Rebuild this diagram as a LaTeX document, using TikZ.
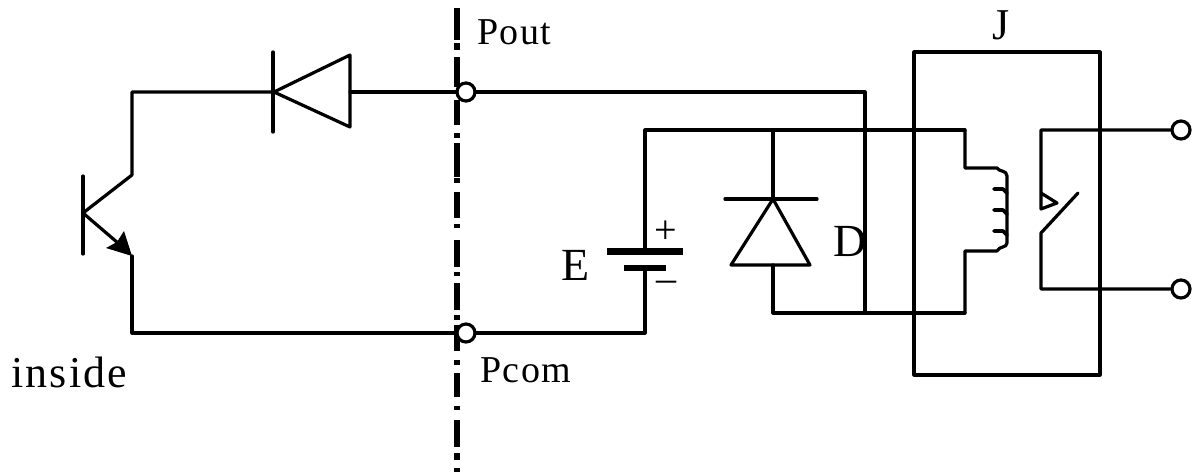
\documentclass[tikz,border=0pt]{standalone}
\usepackage{fontspec}
\setmainfont{Liberation Serif}
\newfontfamily\spaced[LetterSpace=4]{Liberation Serif}
\newfontfamily\wide[LetterSpace=5]{Liberation Serif}
\usetikzlibrary{calc}
\tikzset{
  wire/.style={line width=3.2pt,line cap=round,line join=round,black},
  plate/.style={line width=7pt,black},
  bound/.style={line width=6.2pt,black},
  term/.style={circle,draw=black,line width=3.2pt,fill=white,minimum size=18pt,inner sep=0pt},
  lbl/.style={inner sep=0pt,text=black},
}
\begin{document}
\begin{tikzpicture}[x=1pt,y=-1pt]
\useasboundingbox (0,0) rectangle (1192,472);
\fill[white] (0,0) rectangle (1192,472);
% boundary line
\foreach \a/\b in {8/40,43/50,57/87,100/125,133/138,143/177,178/183,192/218,224/228,240/267,272/276,283/310,315/320,325/351,360/365,373/397,406/410,420/447,453/460,468/472}
  \draw[bound] (457,\a) -- (457,\b);
% coordinates
\coordinate (cTop) at (132,92);
\coordinate (cBot) at (132,256);
\coordinate (cCol) at (132,175);
\coordinate (base) at (83,213);
\coordinate (eBot) at (132,333);
\coordinate (dA) at (350,92);
\coordinate (dK) at (274,92);
\coordinate (outEnd) at (865,92);
\coordinate (comJ) at (865,313);
\coordinate (batTop) at (645,130);
\coordinate (batBot) at (645,333);
\coordinate (plusP) at (645,251);
\coordinate (minusP) at (645,268);
\coordinate (dTop) at (773,130);
\coordinate (dBar) at (773,199);
\coordinate (dBase) at (773,265);
\coordinate (dCorner) at (773,313);
\coordinate (coilA) at (965,130);
\coordinate (coilB) at (965,313);
\coordinate (swTop) at (1041,130);
\coordinate (swBot) at (1041,289);
\coordinate (swHinge) at (1041,233);
\coordinate (swTip) at (1078,193);
% terminals
\node[term] (Pout) at (466,92) {};
\node[term] (Pcom) at (466,333) {};
\node[term] (T1) at (1181,130) {};
\node[term] (T2) at (1181,289) {};
% transistor
\draw[wire] (83,176) -- (83,254);
\draw[wire] (dK) -- (cTop) -- (cCol) -- (base);
\draw[wire] (base) -- (118,243);
\fill[black] (132,256) -- (124,231) -- (117,242) -- (106,248) -- cycle;
\draw[wire] (cBot) -- (eBot) -- (Pcom.west);
% series diode
\draw[wire] (273,52) -- (273,132);
\draw[wire] (dK) -- (350,55) -- (350,127) -- cycle;
\draw[wire] (dA) -- (Pout.west);
\draw[wire] (Pout.east) -- (outEnd) -- (comJ);
% battery
\draw[wire] (Pcom.east) -- (batBot) -- (minusP);
\draw[wire] (plusP) -- (batTop) -- (coilA);
\draw[plate] (607,251) -- (683,251);
\draw[plate,line width=6.5pt] (624,268) -- (666,268);
\node[lbl,font=\fontsize{40}{40}\selectfont] (plus) at (666,232) {+};
\node[lbl,font=\fontsize{40}{40}\selectfont] (minus) at (666,286) {–};
\node[lbl,font=\fontsize{46}{46}\selectfont] (E) at (576,265) {E};
% flyback diode
\draw[wire] (dTop) -- (dBar);
\draw[wire] (725,199) -- (817,199);
\draw[wire] (dBar) -- (731,265) -- (810,265) -- cycle;
\draw[wire] (dBase) -- (dCorner) -- (coilB);
\node[lbl,font=\fontsize{46}{46}\selectfont] (D) at (850,241) {D};
% relay box
\draw[wire] (914,52) rectangle (1100,375);
% coil
\draw[wire] (coilA) -- (965,168) -- (997,168)
  .. controls (999,172) and (1007,170) .. (1007,176)
  -- (1007,243) .. controls (1007,248) and (999,246) .. (997,251)
  -- (965,251) -- (coilB);
\foreach \y in {189,210,231}
  \draw[wire,line width=3.6pt] (994,\y) -- (1003,\y) -- (1007,\y+4);
% contact
\draw[wire] (T1.west) -- (swTop) -- (1041,209) -- (1057,203) -- (1041,193);
\draw[wire] (T2.west) -- (swBot) -- (swHinge) -- (swTip);
% labels
\node[lbl,font=\fontsize{44}{44}\selectfont] (J) at (1001,25) {J};
\node[lbl,anchor=west,font=\fontsize{38}{38}\selectfont\spaced] (PoutL) at (477,32) {Pout};
\node[lbl,anchor=west,font=\fontsize{38}{38}\selectfont\spaced] (PcomL) at (480,370) {Pcom};
\node[lbl,anchor=west,font=\fontsize{44}{44}\selectfont\wide] (inside) at (11,372) {inside};
\end{tikzpicture}
\end{document}
